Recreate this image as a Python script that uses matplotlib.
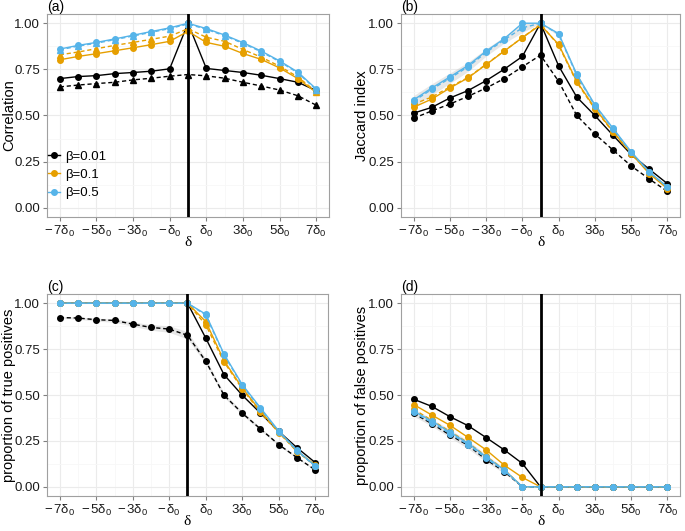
import numpy as np
import matplotlib
matplotlib.use('Agg')
import matplotlib.pyplot as plt

plt.rcParams['font.family'] = ['Liberation Sans', 'DejaVu Sans']
plt.rcParams['mathtext.fontset'] = 'custom'
plt.rcParams['mathtext.rm'] = 'Liberation Sans'
plt.rcParams['mathtext.it'] = 'Liberation Sans'
plt.rcParams['mathtext.bf'] = 'Liberation Sans:bold'

# shift of delta, in units of delta_0
delta = [-7, -6, -5, -4, -3, -2, -1, 0, 1, 2, 3, 4, 5, 6, 7]
xtick_pos = [-7, -5, -3, -1, 1, 3, 5, 7]
xtick_labels = [r'$-\,7\delta_0$', r'$-\,5\delta_0$', r'$-\,3\delta_0$', r'$-\,\delta_0$',
                r'$\delta_0$', r'$3\delta_0$', r'$5\delta_0$', r'$7\delta_0$']
betas = ['β=0.01', 'β=0.1', 'β=0.5']

# (a) correlation
a_b001_solid = [0.700, 0.711, 0.716, 0.727, 0.733, 0.740, 0.753, 1.000, 0.755, 0.744, 0.733, 0.718, 0.700, 0.680, 0.635]
a_b001_dash = [0.655, 0.665, 0.673, 0.680, 0.693, 0.702, 0.713, 0.722, 0.715, 0.702, 0.680, 0.660, 0.638, 0.607, 0.556]
a_b01_solid = [0.802, 0.820, 0.835, 0.851, 0.867, 0.884, 0.902, 0.956, 0.896, 0.875, 0.836, 0.804, 0.758, 0.700, 0.625]
a_b01_dash = [0.829, 0.844, 0.862, 0.880, 0.896, 0.913, 0.930, 0.970, 0.924, 0.902, 0.858, 0.816, 0.767, 0.709, 0.629]
a_b05_solid = [0.860, 0.880, 0.896, 0.915, 0.935, 0.955, 0.975, 1.000, 0.971, 0.936, 0.895, 0.849, 0.796, 0.735, 0.644]
a_b05_dash = [0.856, 0.876, 0.892, 0.911, 0.931, 0.951, 0.971, 0.996, 0.967, 0.932, 0.891, 0.845, 0.792, 0.731, 0.640]

# (b) Jaccard index
b_b001_solid = [0.513, 0.544, 0.595, 0.635, 0.689, 0.751, 0.820, 1.000, 0.769, 0.600, 0.500, 0.393, 0.289, 0.209, 0.131]
b_b001_dash = [0.485, 0.525, 0.562, 0.604, 0.649, 0.700, 0.764, 0.827, 0.685, 0.500, 0.400, 0.313, 0.227, 0.156, 0.089]
b_b01_solid = [0.545, 0.589, 0.649, 0.704, 0.776, 0.849, 0.922, 0.991, 0.885, 0.685, 0.540, 0.413, 0.295, 0.185, 0.104]
b_b01_dash = [0.562, 0.600, 0.655, 0.706, 0.778, 0.850, 0.922, 0.995, 0.880, 0.680, 0.535, 0.410, 0.293, 0.190, 0.110]
b_b05_solid = [0.585, 0.649, 0.709, 0.771, 0.849, 0.916, 1.000, 1.000, 0.944, 0.724, 0.558, 0.431, 0.304, 0.195, 0.113]
b_b05_dash = [0.578, 0.642, 0.702, 0.764, 0.842, 0.910, 0.975, 1.000, 0.940, 0.718, 0.552, 0.427, 0.300, 0.193, 0.112]

# (c) proportion of true positives
c_b001_solid = [1.0, 1.0, 1.0, 1.0, 1.0, 1.0, 1.0, 1.0, 0.810, 0.611, 0.499, 0.401, 0.302, 0.213, 0.132]
c_b001_dash = [0.922, 0.919, 0.910, 0.906, 0.886, 0.868, 0.859, 0.825, 0.684, 0.499, 0.401, 0.315, 0.230, 0.159, 0.092]
c_b01_solid = [1.0, 1.0, 1.0, 1.0, 1.0, 1.0, 1.0, 1.0, 0.900, 0.687, 0.539, 0.412, 0.300, 0.195, 0.119]
c_b01_dash = [1.0, 1.0, 1.0, 1.0, 1.0, 1.0, 1.0, 1.0, 0.882, 0.680, 0.533, 0.405, 0.295, 0.192, 0.115]
c_b05_solid = [1.0, 1.0, 1.0, 1.0, 1.0, 1.0, 1.0, 1.0, 0.940, 0.723, 0.557, 0.430, 0.304, 0.199, 0.114]
c_b05_dash = [1.0, 1.0, 1.0, 1.0, 1.0, 1.0, 1.0, 1.0, 0.935, 0.718, 0.552, 0.425, 0.300, 0.196, 0.112]

# (d) proportion of false positives
d_b001_solid = [0.477, 0.438, 0.382, 0.333, 0.268, 0.201, 0.127, 0.0, 0.0, 0.0, 0.0, 0.0, 0.0, 0.0, 0.0]
d_b001_dash = [0.400, 0.344, 0.282, 0.226, 0.148, 0.083, 0.0, 0.0, 0.0, 0.0, 0.0, 0.0, 0.0, 0.0, 0.0]
d_b01_solid = [0.448, 0.391, 0.335, 0.269, 0.201, 0.118, 0.051, 0.0, 0.0, 0.0, 0.0, 0.0, 0.0, 0.0, 0.0]
d_b01_dash = [0.422, 0.362, 0.302, 0.240, 0.166, 0.094, 0.0, 0.0, 0.0, 0.0, 0.0, 0.0, 0.0, 0.0, 0.0]
d_b05_solid = [0.412, 0.358, 0.298, 0.237, 0.163, 0.092, 0.0, 0.0, 0.0, 0.0, 0.0, 0.0, 0.0, 0.0, 0.0]
d_b05_dash = [0.405, 0.350, 0.290, 0.230, 0.155, 0.088, 0.0, 0.0, 0.0, 0.0, 0.0, 0.0, 0.0, 0.0, 0.0]

# half-widths of the grey bands
b_b05_band = [0.030, 0.030, 0.028, 0.025, 0.020, 0.018, 0.025, 0.0, 0.010, 0.012, 0.010, 0.008, 0.006, 0.005, 0.004]
c_b001_band = [0.005, 0.006, 0.008, 0.010, 0.012, 0.015, 0.018, 0.020, 0.015, 0.012, 0.010, 0.008, 0.006, 0.005, 0.004]
d_b05_band = [0.020, 0.020, 0.022, 0.022, 0.020, 0.015, 0.0, 0.0, 0.0, 0.0, 0.0, 0.0, 0.0, 0.0, 0.0]

colors = ['black', '#E69F00', '#56B4E9']

panels = [
    ('(a)', 'Correlation', [a_b001_solid, a_b01_solid, a_b05_solid], [a_b001_dash, a_b01_dash, a_b05_dash], '^', None),
    ('(b)', 'Jaccard index', [b_b001_solid, b_b01_solid, b_b05_solid], [b_b001_dash, b_b01_dash, b_b05_dash], 'o', (b_b05_dash, b_b05_band)),
    ('(c)', 'proportion of true positives', [c_b001_solid, c_b01_solid, c_b05_solid], [c_b001_dash, c_b01_dash, c_b05_dash], 'o', (c_b001_dash, c_b001_band)),
    ('(d)', 'proportion of false positives', [d_b001_solid, d_b01_solid, d_b05_solid], [d_b001_dash, d_b01_dash, d_b05_dash], 'o', (d_b05_dash, d_b05_band)),
]

W, H = 685, 531
boxes = [(47, 14, 329, 217), (401, 14, 680, 217), (47, 294, 328, 496), (401, 294, 680, 496)]
ylab_x = [9, 362, 9, 362]

fig = plt.figure(figsize=(W / 100, H / 100), dpi=100)

for (tag, ylab, solids, dashes, dmark, band), (l, t, r, b), yx in zip(panels, boxes, ylab_x):
    ax = fig.add_axes([l / W, 1 - b / H, (r - l) / W, (b - t) / H])
    ax.set_xlim(-7.7, 7.7)
    ax.set_ylim(-0.05, 1.05)
    ax.set_xticks(xtick_pos)
    ax.set_xticklabels(xtick_labels)
    ax.set_xticks([-6, -4, -2, 0, 2, 4, 6], minor=True)
    ax.set_yticks([0, 0.25, 0.5, 0.75, 1.0])
    ax.set_yticklabels(['0.00', '0.25', '0.50', '0.75', '1.00'])
    ax.set_yticks([0.125, 0.375, 0.625, 0.875], minor=True)
    ax.grid(which='major', color='#ebebeb', lw=0.8)
    ax.grid(which='minor', color='#f7f7f7', lw=0.6)
    ax.set_axisbelow(True)
    for s in ax.spines.values():
        s.set_color('#a0a0a0')
        s.set_linewidth(0.8)
    ax.tick_params(which='major', length=3, color='#808080', labelsize=9.5, labelcolor='#1a1a1a', pad=2)
    ax.tick_params(which='minor', length=0)

    if band is not None:
        mid, hw = band
        ax.fill_between(delta, np.array(mid) - np.array(hw), np.array(mid) + np.array(hw),
                        color='#bbbbbb', alpha=0.35, lw=0)

    for i in range(3):
        ax.plot(delta, dashes[i], color=colors[i], ls=(0, (3, 2)), lw=1.0,
                marker=dmark, ms=4.5 if dmark == '^' else 4, zorder=3 + i)
        ax.plot(delta, solids[i], color=colors[i], ls='-', lw=1.0,
                marker='o', ms=4, label=betas[i], zorder=3.5 + i)

    ax.axvline(0, color='black', lw=2, zorder=10)
    fig.text(yx / W, 1 - (t + b) / 2 / H, ylab, rotation=90, fontsize=10.5,
             ha='center', va='center')
    ax.set_xlabel('δ', fontsize=11, labelpad=-2, family=['Liberation Serif'])
    ax.text(0, 1.0, tag, transform=ax.transAxes, fontsize=10, ha='left', va='bottom')

    if tag == '(a)':
        ax.legend(loc='center left', bbox_to_anchor=(0.0, 0.207), frameon=False, fontsize=9.5,
                  handlelength=0.9, handletextpad=0.35, labelspacing=0.45, borderaxespad=0.0,
                  borderpad=0.1)

fig.savefig('out.png', dpi=100)
